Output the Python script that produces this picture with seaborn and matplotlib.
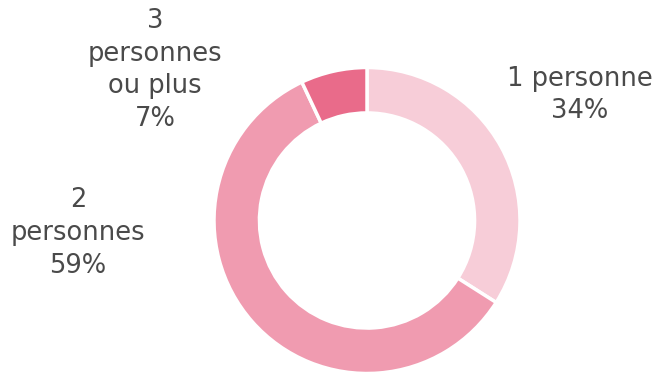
import matplotlib
matplotlib.use("Agg")
import matplotlib.pyplot as plt
import seaborn as sns

categories = ["1 personne", "2\npersonnes", "3\npersonnes\nou plus"]
shares = [34, 59, 7]
colors = ["#F7CDD8", "#F09BB0", "#E96B8A"]

sns.set_theme(style="white")
plt.rcParams["font.family"] = ["DejaVu Sans"]

W, H = 659, 374
fig = plt.figure(figsize=(W / 100, H / 100), dpi=100)
ax = fig.add_axes([0, 0, 1, 1])

cx, cy, r = 367, H - 220.5, 153
ax.pie(shares, colors=colors, startangle=90, counterclock=False,
       center=(cx, cy), radius=r, frame=True,
       wedgeprops=dict(width=r * 0.297, edgecolor="white", linewidth=2.5))
ax.set_xlim(0, W)
ax.set_ylim(0, H)
ax.set_aspect("equal")
ax.axis("off")

label_pos = [(580, 95), (78, 233), (155, 70)]
for cat, val, (x, y) in zip(categories, shares, label_pos):
    ax.text(x, H - y, f"{cat}\n{val}%", ha="center", va="center",
            fontsize=18.5, color="#4a4a4a", linespacing=1.33)

fig.savefig("out.png", dpi=100)
